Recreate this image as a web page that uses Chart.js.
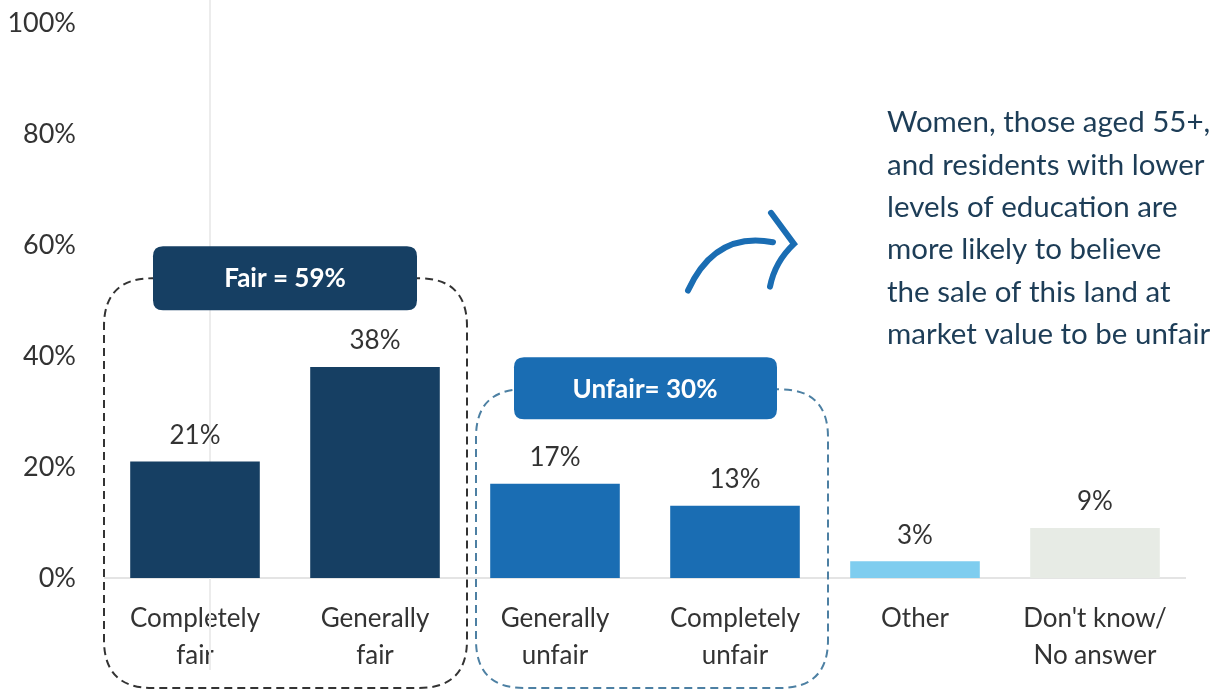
<!DOCTYPE html>
<html>
<head>
<meta charset="utf-8">
<script src="https://cdn.jsdelivr.net/npm/chart.js@4/dist/chart.umd.min.js"></script>
<style>
  html, body { margin: 0; padding: 0; background: #fff; }
  #wrap { width: 1216px; height: 691px; position: relative; }
</style>
</head>
<body>
<div id="wrap"><canvas id="chart" width="1216" height="691"></canvas></div>
<script>
// data
var categories = [["Completely", "fair"], ["Generally", "fair"], ["Generally", "unfair"], ["Completely", "unfair"], ["Other"], ["Don't know/", "No answer"]];
var values = [21, 38, 17, 13, 3, 9];
var barColors = ["#163f63", "#163f63", "#1a6db3", "#1a6db3", "#7fcdef", "#e7ebe5"];
var yTicks = [0, 20, 40, 60, 80, 100];
var fairLabel = "Fair = 59%";
var unfairLabel = "Unfair= 30%";
var noteLines = ["Women, those aged 55+,", "and residents with lower", "levels of education are", "more likely to believe", "the sale of this land at", "market value to be unfair"];

var FONT = "Lato, 'Noto Sans', sans-serif";

function roundRect(ctx, x, y, w, h, r) {
    ctx.beginPath();
    ctx.moveTo(x + r, y);
    ctx.lineTo(x + w - r, y);
    ctx.quadraticCurveTo(x + w, y, x + w, y + r);
    ctx.lineTo(x + w, y + h - r);
    ctx.quadraticCurveTo(x + w, y + h, x + w - r, y + h);
    ctx.lineTo(x + r, y + h);
    ctx.quadraticCurveTo(x, y + h, x, y + h - r);
    ctx.lineTo(x, y + r);
    ctx.quadraticCurveTo(x, y, x + r, y);
    ctx.closePath();
}

// value labels above bars
var valueLabels = {
    id: "valueLabels",
    afterDatasetsDraw: function (chart) {
        var ctx = chart.ctx;
        var meta = chart.getDatasetMeta(0);
        ctx.save();
        ctx.font = "26px " + FONT;
        ctx.fillStyle = "#333";
        ctx.textAlign = "center";
        ctx.textBaseline = "middle";
        meta.data.forEach(function (bar, i) {
            ctx.fillText(values[i] + "%", bar.x, bar.y - 26);
        });
        ctx.restore();
    }
};

// group boxes, arrow and note
var extras = {
    id: "extras",
    beforeDatasetsDraw: function (chart) {
        var ctx = chart.ctx;
        var x = chart.scales.x;
        ctx.save();
        // faint scan line
        ctx.strokeStyle = "#ececec";
        ctx.lineWidth = 2;
        ctx.beginPath();
        ctx.moveTo(x.getPixelForValue(0) + 15, 0);
        ctx.lineTo(x.getPixelForValue(0) + 15, 670);
        ctx.stroke();
        ctx.restore();
    },
    afterDraw: function (chart) {
        var ctx = chart.ctx;
        var x = chart.scales.x, y = chart.scales.y;
        var bottom = chart.height - 3;
        ctx.save();

        // fair group
        var fl = x.getPixelForValue(0) - 91, fr = x.getPixelForValue(1) + 92;
        var ft = y.getPixelForValue(54);
        ctx.setLineDash([8, 5]);
        ctx.lineWidth = 2;
        ctx.strokeStyle = "#333";
        roundRect(ctx, fl, ft, fr - fl, bottom - ft, 48);
        ctx.stroke();
        // unfair group
        var ul = x.getPixelForValue(2) - 79, ur = x.getPixelForValue(3) + 93;
        var ut = y.getPixelForValue(34);
        ctx.strokeStyle = "#4d80a3";
        roundRect(ctx, ul, ut, ur - ul, bottom - ut, 48);
        ctx.stroke();
        ctx.setLineDash([]);

        // labels
        ctx.font = "bold 26px " + FONT;
        ctx.textAlign = "center";
        ctx.textBaseline = "middle";
        var fcx = (x.getPixelForValue(0) + x.getPixelForValue(1)) / 2;
        ctx.fillStyle = "#163f63";
        roundRect(ctx, fcx - 132, ft - 32, 264, 64, 10);
        ctx.fill();
        ctx.fillStyle = "#fff";
        ctx.fillText(fairLabel, fcx, ft);
        var ucx = (x.getPixelForValue(2) + x.getPixelForValue(3)) / 2;
        ctx.fillStyle = "#1a6db3";
        roundRect(ctx, ucx - 131, ut - 32, 263, 62, 10);
        ctx.fill();
        ctx.fillStyle = "#fff";
        ctx.fillText(unfairLabel, ucx, ut);

        // arrow
        var ax = x.getPixelForValue(3);
        ctx.strokeStyle = "#1a6db3";
        ctx.lineWidth = 6;
        ctx.lineCap = "round";
        ctx.beginPath();
        ctx.moveTo(ax - 47, y.getPixelForValue(51.8));
        ctx.quadraticCurveTo(ax - 20, y.getPixelForValue(62.5), ax + 38, y.getPixelForValue(60.5));
        ctx.stroke();
        ctx.beginPath();
        ctx.moveTo(ax + 36, y.getPixelForValue(65.8));
        ctx.lineTo(ax + 59, y.getPixelForValue(60.2));
        ctx.quadraticCurveTo(ax + 40, y.getPixelForValue(57), ax + 35, y.getPixelForValue(52.5));
        ctx.stroke();

        // note
        ctx.font = "29.5px " + FONT;
        ctx.fillStyle = "#1d3d57";
        ctx.textAlign = "left";
        var nx = x.getPixelForValue(4) - 28;
        noteLines.forEach(function (line, i) {
            ctx.fillText(line, nx, y.getPixelForValue(82) + i * 42.3);
        });
        ctx.restore();
    }
};

var ctx = document.getElementById("chart").getContext("2d");
var chart = new Chart(ctx, {
    type: "bar",
    data: {
        labels: categories,
        datasets: [{
            data: values,
            backgroundColor: barColors,
            borderWidth: 0,
            barPercentage: 0.72,
            categoryPercentage: 1
        }]
    },
    options: {
        responsive: false,
        animation: false,
        devicePixelRatio: 1,
        layout: { padding: { top: 23, right: 31, left: 0, bottom: 0 } },
        plugins: { legend: { display: false }, tooltip: { enabled: false } },
        scales: {
            x: {
                grid: { display: false },
                border: { color: "#e4e4e4", width: 2 },
                ticks: {
                    color: "#333",
                    font: { family: FONT, size: 26, lineHeight: 1.42 },
                    padding: 14,
                    maxRotation: 0,
                    autoSkip: false
                },
                afterFit: function (s) { s.height = 113; s.paddingLeft = 0; s.paddingRight = 0; }
            },
            y: {
                min: 0,
                max: 100,
                afterBuildTicks: function (s) { s.ticks = yTicks.map(function (v) { return { value: v }; }); },
                grid: { display: false },
                border: { display: false },
                ticks: {
                    color: "#333",
                    font: { family: FONT, size: 27 },
                    padding: 21,
                    callback: function (v) { return v + "%"; }
                },
                afterFit: function (s) { s.width = 105; s.paddingTop = 0; s.paddingBottom = 0; }
            }
        }
    },
    plugins: [valueLabels, extras]
});
</script>
</body>
</html>
